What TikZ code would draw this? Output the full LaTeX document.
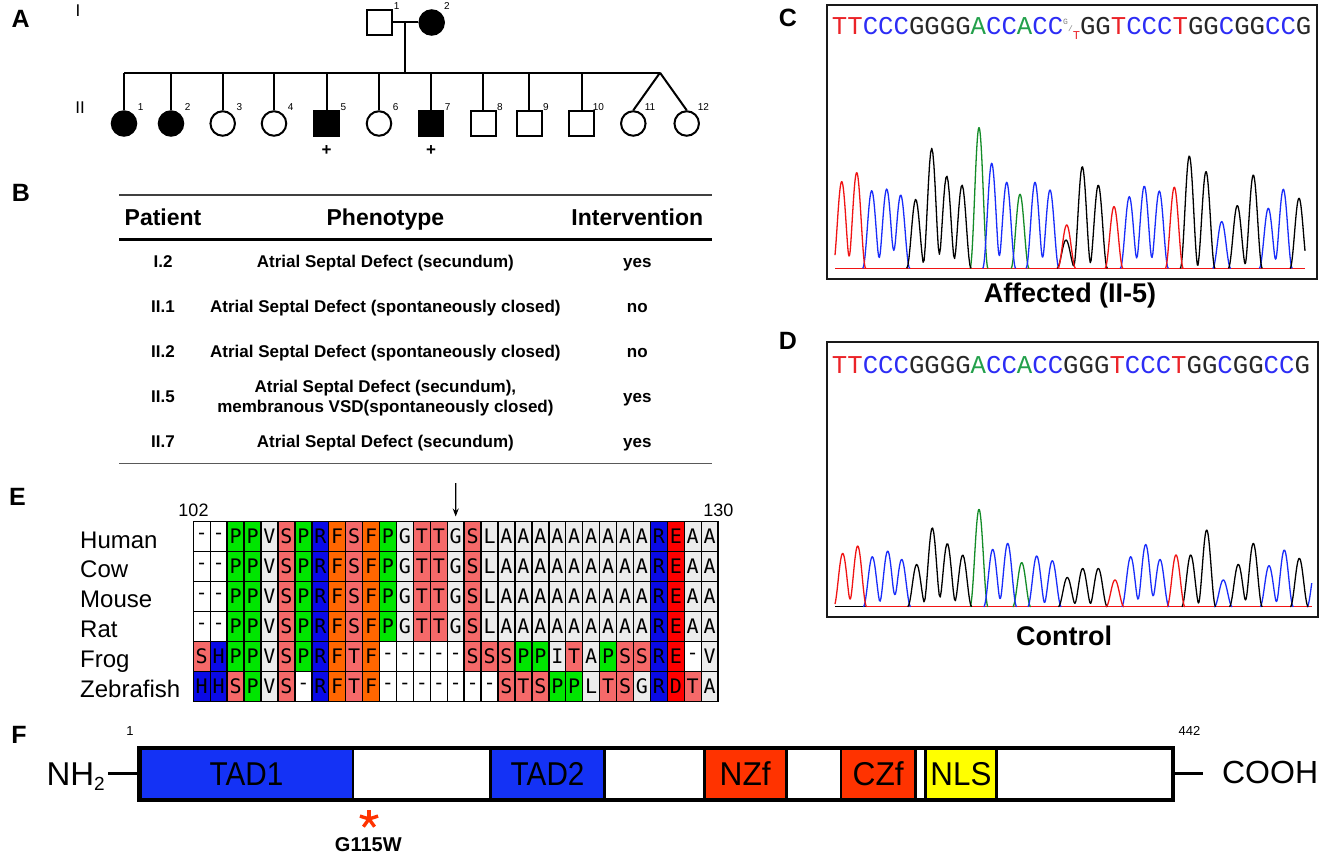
\documentclass[tikz,border=0pt]{standalone}
\usepackage{fontspec}
\setmainfont{Liberation Sans}
\newfontfamily\seqfont{Liberation Mono}
\newfontfamily\alnfont{DejaVu Sans Mono}
\usetikzlibrary{arrows.meta}
\newcommand\fs[1]{\fontsize{#1}{#1}\selectfont}
\definecolor{tadblue}{RGB}{20,50,245}
\definecolor{znfred}{RGB}{255,51,0}
\definecolor{nlsyel}{RGB}{255,255,0}
\definecolor{sqred}{RGB}{235,35,40}
\definecolor{sqblue}{RGB}{45,45,245}
\definecolor{sqgreen}{RGB}{35,160,75}
\definecolor{sqblack}{RGB}{40,40,40}
\definecolor{trred}{RGB}{240,20,20}
\definecolor{trblue}{RGB}{25,45,250}
\definecolor{trgreen}{RGB}{20,140,40}
\definecolor{aw}{RGB}{255,255,255}
\definecolor{ag}{RGB}{0,230,0}
\definecolor{al}{RGB}{236,236,236}
\definecolor{as}{RGB}{245,105,105}
\definecolor{ab}{RGB}{10,10,230}
\definecolor{ao}{RGB}{255,102,0}
\definecolor{ar}{RGB}{255,0,0}
\newcommand\pk[2]{+#2*(abs(\x-#1)<9)*(1+cos(20*(\x-#1)))/2}
\newcommand\trc[5]{\draw[trl,#1] plot[domain=#2:#3,samples=60] (\x,{#4-(0#5)});}
\newcommand\sqR[1]{\textcolor{sqred}{#1}}
\newcommand\sqB[1]{\textcolor{sqblue}{#1}}
\newcommand\sqK[1]{\textcolor{sqblack}{#1}}
\newcommand\sqA[1]{\textcolor{sqgreen}{#1}}
\newcommand\gtmark{\makebox[16.8pt][l]{\raisebox{10pt}{\fs{8}\textcolor{gray}{G}}\raisebox{3pt}{\fs{8}\textcolor{gray}{/}}\raisebox{-5pt}{\fs{12}\sqR{T}}}}
\newcommand\alnrow[3]{\foreach \ch/\cc [count=\i from 0] in #3 {\node[cell, fill=\cc] (#1\i) at ({193.3+16.93*(\i+0.5)},#2) {\ch};}}
\def\mamrow{-/aw,-/aw,P/ag,P/ag,V/al,S/as,P/ag,R/ab,F/ao,S/as,F/ao,P/ag,G/al,T/as,T/as,G/al,S/as,L/al,A/al,A/al,A/al,A/al,A/al,A/al,A/al,A/al,A/al,R/ab,E/ar,A/al,A/al}
\def\bC{268.3}
\def\bD{606.7}
\begin{document}
\begin{tikzpicture}[x=1pt,y=-1pt,
  pl/.style={line width=2pt},
  msq/.style={draw, line width=2pt, rectangle, minimum size=24.5pt, inner sep=0pt},
  fci/.style={draw, line width=2pt, circle, minimum size=24.5pt, inner sep=0pt},
  affm/.style={msq, fill=black},
  afff/.style={fci, fill=black},
  pnum/.style={font=\fs{10}, inner sep=0pt, anchor=base},
  gen/.style={font=\fs{17}, inner sep=0pt, anchor=base},
  lab/.style={font=\bfseries\fs{25}, inner sep=0pt, anchor=base},
  hdr/.style={font=\bfseries\fs{23}, inner sep=0pt, anchor=base},
  tb/.style={font=\bfseries\fs{17}, inner sep=0pt, anchor=base},
  seq/.style={font=\seqfont\fs{25.7}, inner sep=0pt, anchor=base west},
  trl/.style={line width=1.3pt, line join=round},
  captxt/.style={font=\bfseries\fs{27}, inner sep=0pt, anchor=base},
  cell/.style={draw=black, line width=1.4pt, minimum width=16.93pt, minimum height=30pt, inner sep=0pt, font=\alnfont\fs{20}},
  spl/.style={font=\fs{24}, inner sep=0pt, anchor=base west},
  dom/.style={draw, line width=2.8pt, minimum height=51pt, inner sep=0pt, font=\fs{33}},
  pline/.style={line width=2.8pt}]
\useasboundingbox (0,0) rectangle (1320,864);
\fill[white] (0,0) rectangle (1320,864);

% ---------- panel labels
\node[lab] (labA) at (20.7,28) {A};
\node[lab] (labB) at (21,201) {B};
\node[lab] (labC) at (788,27) {C};
\node[lab] (labD) at (788,349) {D};
\node[lab] (labE) at (17.5,505) {E};
\node[lab] (labF) at (19,743) {F};

% ---------- A pedigree
\node[gen] (genI) at (78,17) {I};
\node[gen] (genII) at (80,113.3) {II};
\node[msq] (I1) at (379.5,22.5) {};
\node[afff] (I2) at (431.7,22.5) {};
\node[pnum] (nI1) at (396.7,9.5) {1};
\node[pnum] (nI2) at (447,9.5) {2};
\draw[pl] (I1.east) -- (I2.west);
\coordinate (mid) at (405,22.5);
\coordinate (sib) at (405,72.7);
\draw[pl] (mid) -- (sib);
\foreach \n/\xx/\t in {1/124/afff,2/171/afff,3/222.7/fci,4/274/fci,5/326.7/affm,6/379/fci,7/431/affm,8/483.3/msq,9/529.3/msq,10/581.7/msq,11/633.3/fci,12/686.7/fci}{
  \node[\t] (II\n) at (\xx,123.5) {};
  \node[pnum] (nII\n) at (\xx+16.7,111) {\n};
  \coordinate (c\n) at (\xx,72.7);
}
\foreach \n in {1,...,10}{\draw[pl] (c\n) -- (II\n.north);}
\coordinate (tw) at (660,72.7);
\draw[pl] (c1) -- (tw);
\draw[pl] (tw) -- (II11.north);
\draw[pl] (tw) -- (II12.north);
\node[font=\bfseries\fs{17}, inner sep=0pt] (p5) at (326.7,151) {+};
\node[font=\bfseries\fs{17}, inner sep=0pt] (p7) at (431,151) {+};

% ---------- B table
\draw[line width=1.6pt, black!75] (119,195) -- (712,195);
\draw[line width=2.6pt, black] (119,239.3) -- (712,239.3);
\draw[line width=1.6pt, black!65] (119,463.3) -- (712,463.3);
\node[hdr] (hP) at (163,225) {Patient};
\node[hdr] (hF) at (385.4,225) {Phenotype};
\node[hdr] (hI) at (637.3,225) {Intervention};
\node[tb] (r1a) at (163,267.5) {I.2};
\node[tb] (r1b) at (385.4,267.5) {Atrial Septal Defect (secundum)};
\node[tb] (r1c) at (637.3,267.5) {yes};
\node[tb] (r2a) at (163,312.5) {II.1};
\node[tb] (r2b) at (385.4,312.5) {Atrial Septal Defect (spontaneously closed)};
\node[tb] (r2c) at (637.3,312.5) {no};
\node[tb] (r3a) at (163,357.5) {II.2};
\node[tb] (r3b) at (385.4,357.5) {Atrial Septal Defect (spontaneously closed)};
\node[tb] (r3c) at (637.3,357.5) {no};
\node[tb] (r4a) at (163,402.7) {II.5};
\node[tb] (r4b) at (385.4,392) {Atrial Septal Defect (secundum),};
\node[tb] (r4d) at (385.4,412.7) {membranous VSD(spontaneously closed)};
\node[tb] (r4c) at (637.3,402.7) {yes};
\node[tb] (r5a) at (163,447.7) {II.7};
\node[tb] (r5b) at (385.4,447.7) {Atrial Septal Defect (secundum)};
\node[tb] (r5c) at (637.3,447.7) {yes};

% ---------- C chromatogram (affected)
\draw[line width=2pt, black!90] (826.7,5) rectangle (1316.7,279.3);
\node[seq] (seqC) at (831.7,35) {\sqR{TT}\sqB{CCC}\sqK{GGGG}\sqA{A}\sqB{CC}\sqA{A}\sqB{CC}\gtmark\sqK{GG}\sqR{T}\sqB{CCC}\sqR{T}\sqK{GG}\sqB{C}\sqK{GG}\sqB{CC}\sqK{G}};
\draw[line width=1.5pt, black] (835,\bC) -- (1305,\bC);
\draw[line width=0.8pt, trred] (835,\bC) -- (1305,\bC);
\trc{trgreen}{970}{988}{\bC}{\pk{979}{140.7}}
\trc{trgreen}{1011}{1029}{\bC}{\pk{1020}{74}}
\trc{trblue}{862.7}{909.7}{\bC}{\pk{871.7}{77.7}\pk{886.7}{79.3}\pk{900.7}{73.3}}
\trc{trblue}{982.7}{1015.7}{\bC}{\pk{991.7}{105}\pk{1006.7}{86}}
\trc{trblue}{1026}{1059}{\bC}{\pk{1035}{86}\pk{1050}{78.3}}
\trc{trblue}{1120.3}{1168.3}{\bC}{\pk{1129.3}{71.7}\pk{1144.3}{82.3}\pk{1159.3}{77.3}}
\trc{trblue}{1212.7}{1230.7}{\bC}{\pk{1221.7}{46.7}}
\trc{trblue}{1259.3}{1292.3}{\bC}{\pk{1268.3}{60}\pk{1283.3}{79}}
\trc{black}{906.7}{971}{\bC}{\pk{915.7}{69}\pk{931.7}{120}\pk{946.7}{92.3}\pk{962}{83.3}}
\trc{black}{1057}{1107.3}{\bC}{\pk{1066}{28.3}\pk{1082.3}{101.7}\pk{1098.3}{83.3}}
\trc{black}{1180.3}{1215}{\bC}{\pk{1189.3}{112.3}\pk{1206}{96.7}}
\trc{black}{1228.3}{1262.3}{\bC}{\pk{1237.3}{62.7}\pk{1253.3}{93.3}}
\trc{black}{1290}{1305}{\bC}{\pk{1299}{70}}
\trc{trred}{835}{865.7}{\bC}{\pk{841.7}{86.7}\pk{856.7}{95.7}}
\trc{trred}{1057.7}{1075.7}{\bC}{\pk{1066.7}{43.3}}
\trc{trred}{1105}{1123}{\bC}{\pk{1114}{61.7}}
\trc{trred}{1165.3}{1183.3}{\bC}{\pk{1174.3}{81}}
\node[captxt] (capC) at (1070,302.5) {Affected (II-5)};

% ---------- D chromatogram (control)
\draw[line width=2pt, black!90] (826.7,341.7) rectangle (1318.3,616.7);
\node[seq] (seqD) at (831.7,373.3) {\sqR{TT}\sqB{CCC}\sqK{GGGG}\sqA{A}\sqB{CC}\sqA{A}\sqB{CC}\sqK{GGG}\sqR{T}\sqB{CCC}\sqR{T}\sqK{GG}\sqB{C}\sqK{GG}\sqB{CC}\sqK{G}};
\draw[line width=1.5pt, black] (835,\bD) -- (1311.7,\bD);
\draw[line width=0.7pt, trred] (866.7,\bD) -- (1311.7,\bD);
\trc{trgreen}{970}{988}{\bD}{\pk{979}{97.3}}
\trc{trgreen}{1012.7}{1030.7}{\bD}{\pk{1021.7}{44}}
\trc{trblue}{863.3}{910.7}{\bD}{\pk{872.3}{50}\pk{887.7}{55.7}\pk{901.7}{47.3}}
\trc{trblue}{983.7}{1016.7}{\bD}{\pk{992.7}{57.3}\pk{1007.7}{63.3}}
\trc{trblue}{1027.7}{1061.3}{\bD}{\pk{1036.7}{50.7}\pk{1052.3}{46}}
\trc{trblue}{1121.7}{1169}{\bD}{\pk{1130.7}{50}\pk{1145.7}{62.3}\pk{1160}{47.3}}
\trc{trblue}{1214.3}{1232.3}{\bD}{\pk{1223.3}{26.7}}
\trc{trblue}{1260}{1293.3}{\bD}{\pk{1269}{41}\pk{1284.3}{56.7}}
\trc{trblue}{1307}{1311.7}{\bD}{\pk{1316}{44}}
\trc{black}{907.7}{971.7}{\bD}{\pk{916.7}{42.3}\pk{932.3}{79}\pk{947.3}{63.3}\pk{962.7}{51.7}}
\trc{black}{1058.3}{1107.3}{\bD}{\pk{1067.3}{29.3}\pk{1082.7}{38.3}\pk{1098.3}{38.3}}
\trc{black}{1181.7}{1215.7}{\bD}{\pk{1190.7}{51.7}\pk{1206.7}{76.7}}
\trc{black}{1229.3}{1262.3}{\bD}{\pk{1238.3}{42.3}\pk{1253.3}{63.3}}
\trc{black}{1290.3}{1308.3}{\bD}{\pk{1299.3}{48.3}}
\trc{trred}{835}{866.7}{\bD}{\pk{842.7}{53.3}\pk{857.7}{60.7}}
\trc{trred}{1106}{1124}{\bD}{\pk{1115}{26.7}}
\trc{trred}{1167}{1185}{\bD}{\pk{1176}{51.7}}
\node[captxt] (capD) at (1064,645) {Control};

% ---------- E alignment
\node[font=\fs{18}, inner sep=0pt, anchor=base] (n102) at (193.5,516.7) {102};
\node[font=\fs{18}, inner sep=0pt, anchor=base] (n130) at (718.3,516.7) {130};
\node[spl] (sHum) at (80,548) {Human};
\node[spl] (sCow) at (80,577.5) {Cow};
\node[spl] (sMou) at (80,607.5) {Mouse};
\node[spl] (sRat) at (80,637.5) {Rat};
\node[spl] (sFro) at (80,667.5) {Frog};
\node[spl] (sZeb) at (80,697.5) {Zebrafish};
\alnrow{hum}{536.7}{\mamrow}
\alnrow{cow}{566.7}{\mamrow}
\alnrow{mou}{596.7}{\mamrow}
\alnrow{rat}{626.7}{\mamrow}
\alnrow{fro}{656.7}{{S/as,H/ab,P/ag,P/ag,V/al,S/as,P/ag,R/ab,F/ao,T/as,F/ao,-/aw,-/aw,-/aw,-/aw,-/aw,S/as,S/as,S/as,P/ag,P/ag,I/al,T/as,A/al,P/ag,S/as,S/as,R/ab,E/ar,-/aw,V/al}}
\alnrow{zeb}{686.7}{{H/ab,H/ab,S/as,P/ag,V/al,S/as,-/aw,R/ab,F/ao,T/as,F/ao,-/aw,-/aw,-/aw,-/aw,-/aw,-/aw,-/aw,S/as,T/as,S/as,P/ag,P/ag,L/al,T/as,S/as,G/al,R/ab,D/ar,T/as,A/al}}
\coordinate (arT) at (455.7,483);
\draw[-{Stealth[length=8pt,width=6pt]}, line width=1.3pt, shorten >=4.5pt] (arT) -- (hum15.north);

% ---------- F protein
\node[draw, fill=white, line width=2.8pt, minimum width=1032.4pt, minimum height=51pt, inner sep=0pt] (prot) at (656.4,773.8) {};
\node[dom, fill=tadblue, minimum width=212.7pt] (tad1) at (246.55,773.8) {\scalebox{0.9}[1]{TAD1}};
\node[dom, fill=tadblue, minimum width=114pt] (tad2) at (547.6,773.8) {\scalebox{0.9}[1]{TAD2}};
\node[dom, fill=znfred, minimum width=82.1pt] (nzf) at (745.25,773.8) {\scalebox{0.96}[1]{NZf}};
\node[dom, fill=znfred, minimum width=74.5pt] (czf) at (878.25,773.8) {\scalebox{0.96}[1]{CZf}};
\node[dom, fill=nlsyel, minimum width=71.5pt] (nls) at (960.95,773.8) {\scalebox{0.95}[1]{NLS}};
\draw[line width=2.8pt] (prot.north west) rectangle (prot.south east);
\node[font=\fs{33}, inner sep=0pt, anchor=base east] (nh2) at (105,785) {NH\raisebox{-5pt}{\fs{19}2}};
\draw[pline, shorten <=3pt] (nh2.east |- prot.west) -- (prot.west);
\node[font=\fs{32}, inner sep=0pt, anchor=base west] (cooh) at (1221.9,783.3) {COOH};
\draw[pline, shorten >=18.9pt] (prot.east) -- (cooh.west |- prot.east);
\node[font=\fs{13}, inner sep=0pt, anchor=base] (n1) at (129.9,735) {1};
\node[font=\fs{13}, inner sep=0pt, anchor=base] (n442) at (1189.5,735) {442};
\foreach \a in {90,18,-54,-126,162}{\draw[znfred, line width=3.4pt] (369,819) -- ++(\a:-9.5);}
\node[font=\bfseries\fs{20}, inner sep=0pt, anchor=base] (g115) at (368.3,851.7) {G115W};
\end{tikzpicture}
\end{document}
